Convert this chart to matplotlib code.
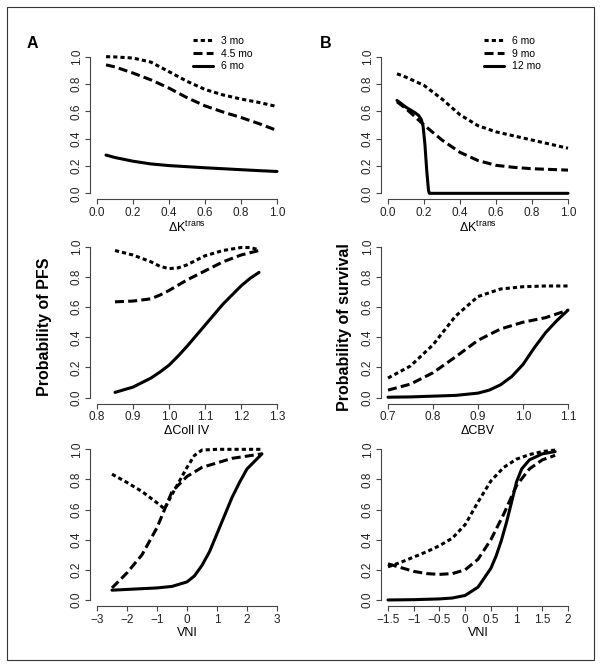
import numpy as np
import matplotlib
matplotlib.use("Agg")
import matplotlib.pyplot as plt
from matplotlib.lines import Line2D
from matplotlib.patches import Rectangle

plt.rcParams['font.family'] = ['Liberation Sans', 'DejaVu Sans']
plt.rcParams['mathtext.fontset'] = 'custom'
plt.rcParams['mathtext.rm'] = 'Liberation Sans'
plt.rcParams['lines.scale_dashes'] = False

# ---- panel A, top: PFS vs delta Ktrans
a1_x = [0.05, 0.1, 0.2, 0.3, 0.4, 0.5, 0.6, 0.7, 0.8, 0.9, 1.0]
a1_3mo = [1.0, 0.998, 0.99, 0.96, 0.89, 0.82, 0.76, 0.72, 0.69, 0.665, 0.635]
a1_45mo = [0.94, 0.925, 0.88, 0.83, 0.77, 0.70, 0.64, 0.595, 0.555, 0.51, 0.46]
a1_6mo = [0.28, 0.262, 0.235, 0.215, 0.203, 0.195, 0.187, 0.18, 0.173, 0.166, 0.16]

# ---- panel A, middle: PFS vs delta Coll IV
a2_x = [0.85, 0.9, 0.95, 0.975, 1.0, 1.025, 1.05, 1.1, 1.15, 1.2, 1.225, 1.25]
a2_3mo = [0.975, 0.945, 0.90, 0.87, 0.855, 0.86, 0.88, 0.94, 0.975, 0.995, 0.995, 0.98]
a2_45mo = [0.635, 0.64, 0.655, 0.68, 0.71, 0.745, 0.78, 0.84, 0.90, 0.945, 0.96, 0.975]
a2_6mo = [0.035, 0.07, 0.13, 0.17, 0.215, 0.275, 0.34, 0.48, 0.62, 0.74, 0.79, 0.83]

# ---- panel A, bottom: PFS vs VNI
a3_x_3mo = [-2.5, -2, -1.5, -1, -0.75, -0.5, -0.25, 0, 0.25, 0.5, 1, 1.5, 2, 2.5]
a3_3mo = [0.835, 0.78, 0.72, 0.645, 0.605, 0.70, 0.79, 0.88, 0.96, 0.995, 1.0, 1.0, 1.0, 1.0]
a3_x = [-2.5, -2, -1.5, -1, -0.5, 0, 0.5, 1, 1.5, 2, 2.5]
a3_45mo = [0.08, 0.18, 0.30, 0.48, 0.72, 0.82, 0.88, 0.91, 0.94, 0.955, 0.97]
a3_x_6mo = [-2.5, -2, -1.5, -1, -0.5, 0, 0.25, 0.5, 0.75, 1, 1.25, 1.5, 1.75, 2, 2.25, 2.5]
a3_6mo = [0.065, 0.07, 0.075, 0.08, 0.09, 0.12, 0.16, 0.23, 0.32, 0.44, 0.56, 0.68, 0.78, 0.87, 0.92, 0.97]

# ---- panel B, top: survival vs delta Ktrans
b1_x = [0.05, 0.1, 0.2, 0.3, 0.4, 0.5, 0.6, 0.7, 0.8, 0.9, 1.0]
b1_6mo = [0.875, 0.85, 0.79, 0.69, 0.575, 0.495, 0.45, 0.42, 0.39, 0.36, 0.33]
b1_x_9mo = [0.05, 0.1, 0.15, 0.2, 0.3, 0.4, 0.5, 0.6, 0.7, 0.8, 0.9, 1.0]
b1_9mo = [0.67, 0.62, 0.56, 0.5, 0.39, 0.3, 0.24, 0.205, 0.19, 0.18, 0.175, 0.17]
b1_x_12mo = [0.05, 0.1, 0.15, 0.17, 0.185, 0.195, 0.205, 0.215, 0.225, 0.23, 0.24, 1.0]
b1_12mo = [0.68, 0.63, 0.59, 0.57, 0.54, 0.49, 0.36, 0.17, 0.02, 0.0, 0.0, 0.0]

# ---- panel B, middle: survival vs delta CBV
b2_x = [0.7, 0.75, 0.8, 0.85, 0.9, 0.95, 1.0, 1.05, 1.1]
b2_6mo = [0.13, 0.21, 0.35, 0.54, 0.67, 0.72, 0.735, 0.74, 0.74]
b2_9mo = [0.05, 0.09, 0.165, 0.27, 0.38, 0.455, 0.50, 0.53, 0.58]
b2_x_12mo = [0.7, 0.75, 0.8, 0.85, 0.9, 0.925, 0.95, 0.975, 1.0, 1.025, 1.05, 1.075, 1.1]
b2_12mo = [0.003, 0.005, 0.01, 0.015, 0.03, 0.05, 0.085, 0.14, 0.22, 0.33, 0.43, 0.51, 0.58]

# ---- panel B, bottom: survival vs VNI
b3_x = [-1.5, -1.25, -1, -0.75, -0.5, -0.25, 0, 0.25, 0.5, 0.75, 1, 1.25, 1.5, 1.75]
b3_6mo = [0.22, 0.25, 0.285, 0.32, 0.36, 0.41, 0.5, 0.65, 0.79, 0.88, 0.935, 0.965, 0.985, 0.995]
b3_9mo = [0.24, 0.215, 0.19, 0.175, 0.17, 0.175, 0.2, 0.27, 0.40, 0.57, 0.76, 0.87, 0.93, 0.96]
b3_x_12mo = [-1.5, -1, -0.5, -0.25, 0, 0.25, 0.5, 0.6, 0.7, 0.8, 0.9, 1.0, 1.1, 1.25, 1.5, 1.75]
b3_12mo = [0.0, 0.002, 0.007, 0.013, 0.03, 0.085, 0.21, 0.29, 0.39, 0.51, 0.645, 0.785, 0.87, 0.93, 0.97, 0.985]

legend_a = ["3 mo", "4.5 mo", "6 mo"]
legend_b = ["6 mo", "9 mo", "12 mo"]

LW = 2.2
DOT = dict(color="black", lw=LW, dashes=(3, 2.2), solid_capstyle="butt")
DASH = dict(color="black", lw=LW, dashes=(6.5, 3), solid_capstyle="butt")
SOLID = dict(color="black", lw=LW, solid_capstyle="round")
AXC = "#444444"
TICK_FS = 8.5
LAB_FS = 9

W, H = 602, 668
fig = plt.figure(figsize=(W / 100, H / 100), dpi=100)


def make_ax(left_px, top_px, bottom_px, xticks):
    width_px = 194.4
    ax = fig.add_axes([left_px / W, 1 - bottom_px / H, width_px / W, (bottom_px - top_px) / H])
    lo, hi = xticks[0], xticks[-1]
    pad = 0.04 * (hi - lo)
    ax.set_xlim(lo - pad, hi + pad)
    ax.set_ylim(-0.04, 1.04)
    ax.set_xticks(xticks)
    ax.set_yticks([0, 0.2, 0.4, 0.6, 0.8, 1.0])
    ax.set_yticklabels(["0.0", "0.2", "0.4", "0.6", "0.8", "1.0"], rotation=90, va="center")
    for s in ["top", "right"]:
        ax.spines[s].set_visible(False)
    for s in ["left", "bottom"]:
        ax.spines[s].set_color(AXC)
        ax.spines[s].set_linewidth(0.8)
    ax.spines["bottom"].set_bounds(lo, hi)
    ax.spines["left"].set_bounds(0, 1)
    ax.tick_params(length=3.6, width=0.8, color=AXC, labelsize=TICK_FS, labelcolor="#222222")
    ax.tick_params(axis="y", pad=1.5)
    ax.tick_params(axis="x", pad=2)
    ax.patch.set_visible(False)
    return ax


def fmt_ticks(vals, decimals):
    out = []
    for v in vals:
        if decimals == 0:
            s = ("%g" % v)
        else:
            s = ("%.*f" % (decimals, v))
        out.append(s.replace("-", "\u2212"))
    return out


LA, LB = 89.8, 380.8
rows = [(51.2, 198.8), (240.7, 403.7), (443.3, 606.0)]

# A top
ax = make_ax(LA, *rows[0], [0, 0.2, 0.4, 0.6, 0.8, 1.0])
ax.set_xticklabels(fmt_ticks([0, 0.2, 0.4, 0.6, 0.8, 1.0], 1))
ax.plot(a1_x, a1_3mo, **DOT)
ax.plot(a1_x, a1_45mo, **DASH)
ax.plot(a1_x, a1_6mo, **SOLID)
ax.set_xlabel("\u0394K$^{\\mathrm{trans}}$", fontsize=LAB_FS, labelpad=1)
h = [Line2D([], [], **DOT), Line2D([], [], **DASH), Line2D([], [], **SOLID)]
ax.legend(h, legend_a, loc="upper left", bbox_to_anchor=(193 / W, 1 - 36 / H),
          bbox_transform=fig.transFigure, frameon=False, fontsize=7.5, handlelength=1.9,
          handletextpad=0.8, labelspacing=0.25, borderpad=0, borderaxespad=0)

# A middle
xt = [0.8, 0.9, 1.0, 1.1, 1.2, 1.3]
ax = make_ax(LA, *rows[1], xt)
ax.set_xticklabels(fmt_ticks(xt, 1))
ax.plot(a2_x, a2_3mo, **DOT)
ax.plot(a2_x, a2_45mo, **DASH)
ax.plot(a2_x, a2_6mo, **SOLID)
ax.set_xlabel("\u0394Coll IV", fontsize=LAB_FS, labelpad=1)

# A bottom
xt = [-3, -2, -1, 0, 1, 2, 3]
ax = make_ax(LA, *rows[2], xt)
ax.set_xticklabels(fmt_ticks(xt, 0))
ax.plot(a3_x_3mo, a3_3mo, **DOT)
ax.plot(a3_x, a3_45mo, **DASH)
ax.plot(a3_x_6mo, a3_6mo, **SOLID)
ax.set_xlabel("VNI", fontsize=LAB_FS, labelpad=1)

# B top
xt = [0, 0.2, 0.4, 0.6, 0.8, 1.0]
ax = make_ax(LB, *rows[0], xt)
ax.set_xticklabels(fmt_ticks(xt, 1))
ax.plot(b1_x, b1_6mo, **DOT)
ax.plot(b1_x_9mo, b1_9mo, **DASH)
ax.plot(b1_x_12mo, b1_12mo, **SOLID)
ax.set_xlabel("\u0394K$^{\\mathrm{trans}}$", fontsize=LAB_FS, labelpad=1)
ax.legend(h, legend_b, loc="upper left", bbox_to_anchor=(484 / W, 1 - 36 / H),
          bbox_transform=fig.transFigure, frameon=False, fontsize=7.5, handlelength=1.9,
          handletextpad=0.8, labelspacing=0.25, borderpad=0, borderaxespad=0)

# B middle
xt = [0.7, 0.8, 0.9, 1.0, 1.1]
ax = make_ax(LB, *rows[1], xt)
ax.set_xticklabels(fmt_ticks(xt, 1))
ax.plot(b2_x, b2_6mo, **DOT)
ax.plot(b2_x, b2_9mo, **DASH)
ax.plot(b2_x_12mo, b2_12mo, **SOLID)
ax.set_xlabel("\u0394CBV", fontsize=LAB_FS, labelpad=1)

# B bottom
xt = [-1.5, -1, -0.5, 0, 0.5, 1, 1.5, 2]
ax = make_ax(LB, *rows[2], xt)
ax.set_xticklabels(fmt_ticks(xt, 0))
ax.plot(b3_x, b3_6mo, **DOT)
ax.plot(b3_x, b3_9mo, **DASH)
ax.plot(b3_x_12mo, b3_12mo, **SOLID)
ax.set_xlabel("VNI", fontsize=LAB_FS, labelpad=1)

# panel letters and shared y labels
fig.text(32.5 / W, 1 - 43 / H, "A", fontsize=11.5, fontweight="bold", ha="center", va="center")
fig.text(325.5 / W, 1 - 43 / H, "B", fontsize=11.5, fontweight="bold", ha="center", va="center")
fig.text(44 / W, 1 - 327 / H, "Probability of PFS", fontsize=11.5, fontweight="bold",
         rotation=90, ha="center", va="center")
fig.text(344 / W, 1 - 327 / H, "Probability of survival", fontsize=11.5, fontweight="bold",
         rotation=90, ha="center", va="center")

# outer frame
fig.patches.append(Rectangle((7 / W, 1 - 660 / H), 587 / W, 653 / H, transform=fig.transFigure,
                             fill=False, edgecolor="#333333", lw=0.8))

fig.savefig("out.png", dpi=100)
